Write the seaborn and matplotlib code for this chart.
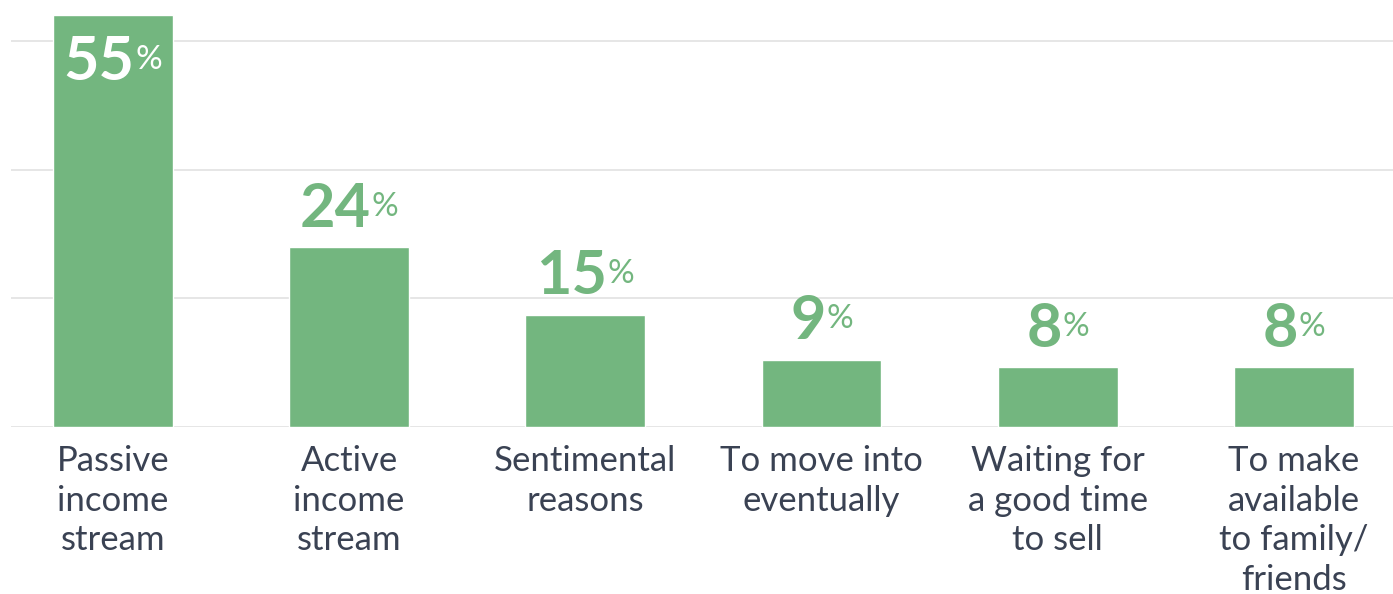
import matplotlib
matplotlib.use("Agg")
import matplotlib.pyplot as plt
import seaborn as sns
import pandas as pd

# Survey answers: reasons for keeping a property
categories = [
    "Passive\nincome\nstream",
    "Active\nincome\nstream",
    "Sentimental\nreasons",
    "To move into\neventually",
    "Waiting for\na good time\nto sell",
    "To make\navailable\nto family/\nfriends",
]
shares = [55, 24, 15, 9, 8, 8]
grid_levels = [0, 17.17, 34.35, 51.5]

BAR_GREEN = "#73b67f"
LABEL_GREEN = "#73b67f"
TEXT_DARK = "#3a4253"
GRID_GREY = "#e6e6e6"

sns.set_theme(style="white")
plt.rcParams["font.family"] = ["Lato", "DejaVu Sans"]

DPI = 100
fig = plt.figure(figsize=(13.93, 5.94), dpi=DPI)
ax = fig.add_axes([11 / 1393, 167 / 594, 1 - 11 / 1393, 427 / 594])

df = pd.DataFrame({"reason": categories, "share": shares})
sns.barplot(data=df, x="reason", y="share", color=BAR_GREEN, saturation=1,
            width=0.508, ax=ax)

ax.set_xlim(-0.432, 5.42)
ax.set_ylim(0, 57.0)
ax.set_yticks(grid_levels)
ax.set_yticklabels([])
ax.tick_params(axis="y", length=0)
ax.yaxis.grid(True, color=GRID_GREY, linewidth=1.4)
ax.set_axisbelow(True)
for s in ax.spines.values():
    s.set_visible(False)
ax.set_xlabel("")
ax.set_ylabel("")
ax.tick_params(axis="x", length=0, pad=13)
for lbl in ax.get_xticklabels():
    lbl.set_fontsize(25)
    lbl.set_color(TEXT_DARK)
    lbl.set_linespacing(1.29)
    lbl.set_va("top")

# Value labels: large number plus a smaller raised percent sign
top_value = max(shares)
pairs = []
GAP = 0.5
for i, v in enumerate(shares):
    inside = v == top_value
    color = "white" if inside else LABEL_GREEN
    base = -47.0 if inside else 14.5
    num = ax.annotate(f"{v}", xy=(i, v), xytext=(0, base), textcoords="offset points",
                      ha="right", va="baseline", fontsize=44, fontweight="bold",
                      color=color)
    pct = ax.annotate("%", xy=(i, v), xytext=(GAP, base + 8), textcoords="offset points",
                      ha="left", va="baseline", fontsize=24, color=color)
    pairs.append((num, pct, base))

fig.canvas.draw()
renderer = fig.canvas.get_renderer()
for num, pct, base in pairs:
    w1 = num.get_window_extent(renderer).width * 72 / DPI
    w2 = pct.get_window_extent(renderer).width * 72 / DPI
    shift = -(-w1 + GAP + w2) / 2
    num.xyann = (shift, base)
    pct.xyann = (GAP + shift, base + 8)

fig.savefig("out.png", dpi=DPI, facecolor="white")
